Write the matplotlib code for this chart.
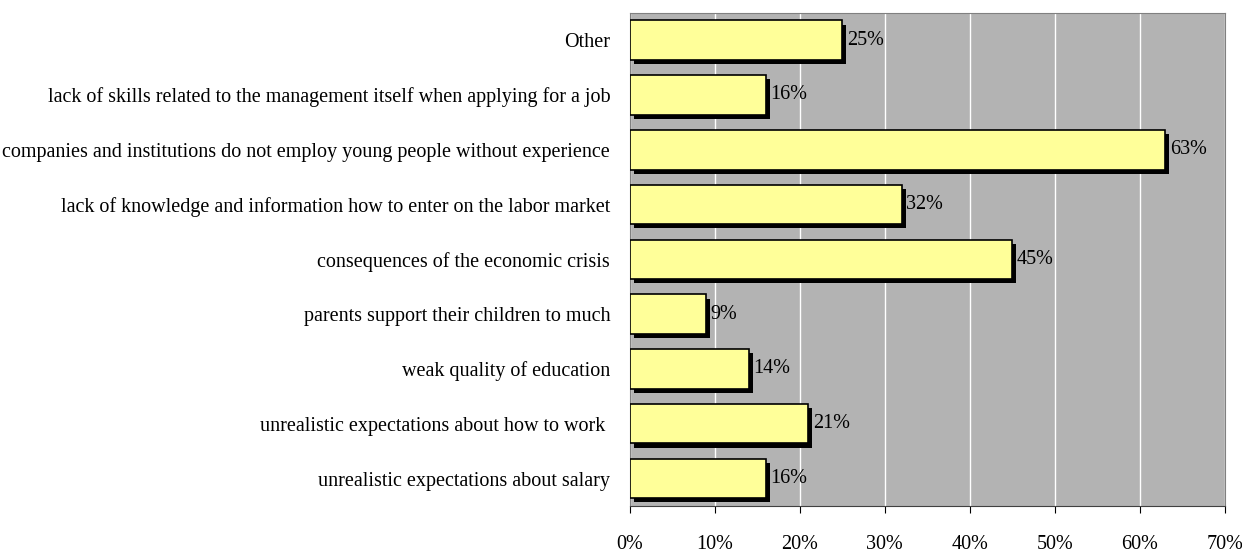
import matplotlib
matplotlib.use('Agg')
import matplotlib.pyplot as plt
import matplotlib.patheffects as pe
from matplotlib.ticker import PercentFormatter

categories = [
    'unrealistic expectations about salary',
    'unrealistic expectations about how to work ',
    'weak quality of education',
    'parents support their children to much',
    'consequences of the economic crisis',
    'lack of knowledge and information how to enter on the labor market',
    'companies and institutions do not employ young people without experience',
    'lack of skills related to the management itself when applying for a job',
    'Other',
]
values = [16, 21, 14, 9, 45, 32, 63, 16, 25]
xticks = [0, 10, 20, 30, 40, 50, 60, 70]

plt.rcParams['font.family'] = ['Liberation Serif', 'DejaVu Serif']

fig = plt.figure(figsize=(12.42, 5.56), dpi=100)
ax = fig.add_axes([0.507, 0.090, 0.479, 0.887])
ax.set_facecolor('#b3b3b3')

ypos = range(len(categories))
bars = ax.barh(ypos, values, height=0.72, color='#ffff99', edgecolor='black', linewidth=1.2, zorder=3)
for b in bars:
    b.set_path_effects([pe.SimplePatchShadow(offset=(3, -3), shadow_rgbFace='black', alpha=1.0), pe.Normal()])

for y, v in zip(ypos, values):
    ax.text(v + 0.55, y, f'{v}%', va='center', ha='left', fontsize=14.5, zorder=4)

ax.set_xlim(0, 70)
ax.set_ylim(-0.5, len(categories) - 0.5)
ax.set_xticks(xticks)
ax.xaxis.set_major_formatter(PercentFormatter(decimals=0))
ax.set_yticks(list(ypos))
ax.set_yticklabels(categories, fontsize=14.5)
ax.tick_params(axis='y', length=0, pad=14)
ax.tick_params(axis='x', direction='out', length=5, pad=16, labelsize=14.5)
ax.grid(axis='x', color='white', linewidth=1, zorder=1)
for s in ['top', 'right', 'left']:
    ax.spines[s].set_color('#808080')
ax.spines['bottom'].set_color('#404040')

fig.savefig('out.png', dpi=100)
